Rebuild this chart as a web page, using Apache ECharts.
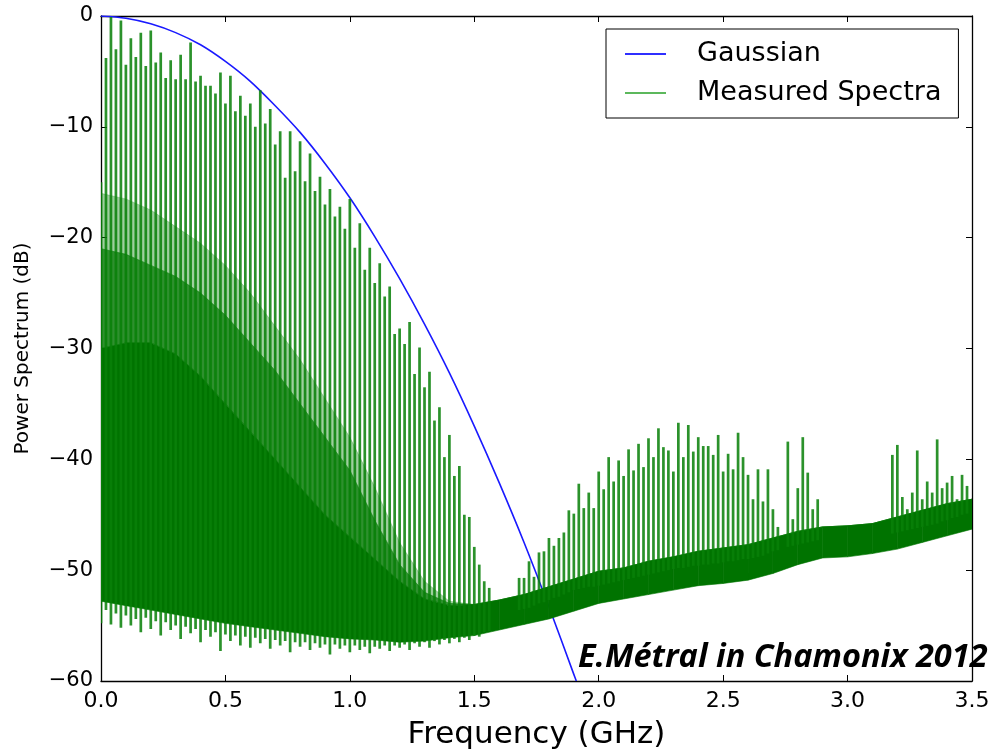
<!DOCTYPE html>
<html><head><meta charset="utf-8">
<script src="https://cdn.jsdelivr.net/npm/echarts@6/dist/echarts.min.js"></script>
<style>html,body{margin:0;padding:0;background:#fff}#c{width:998px;height:755px}</style>
</head><body><div id="c"></div>
<script>
// ---- data ----
const xTickValues = [0, 0.5, 1.0, 1.5, 2.0, 2.5, 3.0, 3.5];
const yTickValues = [0, -10, -20, -30, -40, -50, -60];

// Gaussian model curve (dB)
const gaussFreq = [0, 0.1, 0.2, 0.3, 0.4, 0.5, 0.6, 0.7, 0.8, 0.9, 1.0, 1.1, 1.2, 1.3, 1.4, 1.5, 1.6, 1.7, 1.8, 1.9, 1.91];
const gaussDb   = [0, -0.2, -0.7, -1.5, -2.6, -4.1, -5.9, -8.1, -10.5, -13.3, -16.4, -19.9, -23.7, -27.8, -32.2, -37.0, -42.1, -47.5, -53.3, -59.4, -60.0];

// Measured spectrum: dense noise band envelopes (dB)
const bandFreq    = [0, 0.1, 0.2, 0.3, 0.4, 0.5, 0.6, 0.7, 0.8, 0.9, 1.0, 1.1, 1.2, 1.3, 1.4, 1.5, 1.6, 1.7, 1.8, 1.9, 2.0, 2.1, 2.2, 2.3, 2.4, 2.5, 2.6, 2.7, 2.8, 2.9, 3.0, 3.1, 3.2, 3.3, 3.4, 3.5];
const coreBottom  = [-52.8, -53.2, -53.6, -54.0, -54.4, -54.8, -55.1, -55.4, -55.7, -56.0, -56.2, -56.3, -56.5, -56.4, -56.1, -55.9, -55.4, -54.9, -54.4, -53.7, -53.0, -52.6, -52.2, -51.8, -51.4, -51.2, -50.9, -50.3, -49.5, -48.9, -48.8, -48.5, -48.1, -47.5, -46.9, -46.3];
const coreTop     = [-30.0, -29.5, -29.5, -30.5, -32.5, -35.0, -37.5, -40.0, -42.5, -45.0, -47.0, -49.0, -51.0, -52.6, -53.2, -53.1, -52.7, -52.2, -51.5, -50.8, -50.1, -49.8, -49.2, -48.8, -48.3, -48.0, -47.7, -47.1, -46.5, -46.1, -46.0, -45.8, -45.2, -44.6, -44.0, -43.6];
const haloTop     = [-21.0, -21.5, -22.5, -23.5, -25.0, -27.0, -29.5, -32.0, -35.0, -38.0, -41.0, -45.5, -49.5, -52.0, -53.0, -53.1, -52.7, -52.2, -51.5, -50.8, -50.1, -49.8, -49.2, -48.8, -48.3, -48.0, -47.7, -47.1, -46.5, -46.1, -46.0, -45.8, -45.2, -44.6, -44.0, -43.6];
const haloSoftTop = [-16.0, -16.5, -17.5, -19.0, -20.5, -22.5, -25.0, -28.0, -31.0, -34.5, -38.0, -42.5, -47.5, -51.0, -52.8, -53.1, -52.7, -52.2, -51.5, -50.8, -50.1, -49.8, -49.2, -48.8, -48.3, -48.0, -47.7, -47.1, -46.5, -46.1, -46.0, -45.8, -45.2, -44.6, -44.0, -43.6];

// Measured spectrum: harmonic lines every 0.02 GHz (line n sits at n * spikeStep)
const spikeStep = 0.02;
const spikeTop = [
  -15, -3.8, -0.1, -3.0, -0.4, -4.4, -2.0, -3.7, -1.5, -4.5,
  -1.3, -4.2, -3.3, -5.6, -4.0, -5.7, -3.5, -5.7, -2.4, -5.9,
  -5.4, -6.3, -6.3, -7.0, -5.1, -7.9, -5.4, -8.6, -7.2, -9.0,
  -7.9, -10.0, -6.7, -9.7, -8.4, -11.6, -10.4, -14.6, -10.4, -14.0,
  -11.3, -14.9, -12.4, -15.8, -14.5, -17.0, -15.6, -18.1, -17.2, -19.2,
  -16.5, -20.9, -18.7, -22.9, -20.9, -24.1, -22.3, -25.3, -24.4, -28.7,
  -28.2, -29.6, -27.6, -32.3, -29.9, -33.5, -32.1, -36.5, -35.3, -39.8,
  -37.8, -41.5, -40.6, -45.0, -45.2, -47.9, -49.5, -51.0, -51.6, null,
  null, null, null, null, -50.7, -50.7, -49.2, -50.6, -48.4, -48.3,
  -47.1, -47.8, -47.1, -46.6, -44.6, -44.9, -42.2, -44.4, -43.0, -44.4,
  -41.1, -42.7, -39.8, -42.0, -40.1, -41.5, -39.1, -41.0, -38.6, -40.7,
  -38.1, -39.8, -37.2, -38.9, -39.2, -41.1, -36.7, -39.8, -36.9, -39.3,
  -38.0, -38.8, -38.8, -39.6, -37.8, -41.1, -39.5, -40.9, -37.6, -39.8,
  -41.4, -43.6, -40.9, -43.8, -40.9, -44.5, -46.1, null, -38.4, -45.4,
  -42.6, -38.0, -41.2, -44.5, -43.6, null, null, null, null, null,
  null, null, null, null, null, null, null, null, null, -39.6,
  -38.7, -43.4, -44.5, -43.0, -39.2, -43.6, -42.0, -43.0, -38.2, -42.6,
  -42.1, -41.5, -43.6, -41.4, -42.4
];
const spikeBottom = [
  -54.8, -53.6, -54.9, -53.9, -55.2, -54.1, -55.0, -54.4, -55.6, -54.3,
  -55.3, -54.6, -55.9, -54.7, -55.4, -55.0, -56.2, -55.1, -55.7, -55.3,
  -56.5, -55.4, -56.0, -55.6, -57.3, -55.8, -56.4, -55.9, -56.8, -56.0,
  -57.0, -56.1, -56.6, -56.2, -57.1, -56.3, -56.8, -56.4, -57.4, -56.5,
  -56.9, -56.5, -57.2, -56.6, -57.0, -56.7, -57.6, -56.7, -57.1, -56.8,
  -57.4, -56.8, -57.2, -56.9, -57.5, -56.9, -57.1, -56.8, -57.3, -56.8,
  -57.0, -56.7, -57.2, -56.6, -56.9, -56.5, -57.0, -56.4, -56.7, -56.3,
  -56.6, -56.2, -56.5, -56.1, -56.3, -55.9, -56.0, -55.6, -55.5, null,
  null, null, null, null, -53.6, -53.5, -53.4, -53.2, -53.0, -52.9,
  -52.7, -52.5, -52.4, -52.2, -52.0, -51.8, -51.7, -51.6, -51.5, -51.5,
  -51.4, -51.3, -51.2, -51.1, -51.0, -50.9, -50.8, -50.7, -50.6, -50.5,
  -50.4, -50.3, -50.2, -50.1, -50.0, -49.9, -49.8, -49.8, -49.7, -49.6,
  -49.6, -49.5, -49.5, -49.4, -49.4, -49.3, -49.2, -49.2, -49.1, -49.0,
  -49.0, -48.9, -48.8, -48.7, -48.5, -48.3, -48.2, null, -47.9, -47.8,
  -47.7, -47.6, -47.5, -47.4, -47.3, null, null, null, null, null,
  null, null, null, null, null, null, null, null, null, -46.7,
  -46.6, -46.5, -46.4, -46.3, -46.2, -46.1, -46.0, -45.9, -45.8, -45.6,
  -45.5, -45.3, -45.2, -45.0, -44.9
];

// ---- build chart ----
const fmtMinus = v => String(v).replace('-', '\u2212');
function bandData(lo, hi) {
  const out = [];
  for (let i = 0; i < bandFreq.length - 1; i++) {
    out.push([bandFreq[i], lo[i], hi[i], bandFreq[i + 1], lo[i + 1], hi[i + 1]]);
  }
  return out;
}
function bandRender(fill) {
  return function (params, api) {
    const a = api.coord([api.value(0), api.value(1)]);
    const b = api.coord([api.value(0), api.value(2)]);
    const c = api.coord([api.value(3), api.value(5)]);
    const d = api.coord([api.value(3), api.value(4)]);
    return { type: 'polygon', shape: { points: [a, b, c, d] }, style: { fill: fill, stroke: fill, lineWidth: 0.6 } };
  };
}
const spikeData = [];
for (let n = 0; n < spikeTop.length; n++) {
  if (spikeTop[n] !== null) spikeData.push([n * spikeStep, spikeBottom[n], spikeTop[n]]);
}

const chart = echarts.init(document.getElementById('c'), null, { renderer: 'canvas' });
const axisCommon = {
  type: 'value',
  axisLine: { show: true, onZero: false, lineStyle: { color: '#000', width: 1.3 } },
  axisTick: { show: true, inside: true, length: 6, lineStyle: { color: '#000', width: 1 } },
  splitLine: { show: false }
};
const FONT = 'DejaVu Sans';
chart.setOption({
  animation: false,
  backgroundColor: '#fff',
  grid: { left: 101, right: 26, top: 16, bottom: 64, containLabel: false },
  xAxis: [
    Object.assign({}, axisCommon, {
      min: 0, max: 3.5, interval: 0.5, position: 'bottom',
      axisLabel: { formatter: v => v.toFixed(1), fontSize: 22, color: '#000', margin: 9, fontFamily: FONT },
      name: 'Frequency (GHz)', nameLocation: 'middle', nameGap: 38,
      nameTextStyle: { fontSize: 31, color: '#000', fontFamily: FONT }
    }),
    Object.assign({}, axisCommon, { min: 0, max: 3.5, interval: 0.5, position: 'top', axisLabel: { show: false } })
  ],
  yAxis: [
    Object.assign({}, axisCommon, {
      min: -60, max: 0, interval: 10, position: 'left',
      axisLabel: { formatter: fmtMinus, fontSize: 21, color: '#000', margin: 8, fontFamily: FONT },
      name: 'Power Spectrum (dB)', nameLocation: 'middle', nameGap: 68,
      nameTextStyle: { fontSize: 20, color: '#000', fontFamily: FONT }
    }),
    Object.assign({}, axisCommon, { min: -60, max: 0, interval: 10, position: 'right', axisLabel: { show: false } })
  ],
  legend: {
    left: 606, top: 29, orient: 'vertical',
    padding: [11, 17, 11, 19], itemGap: 11,
    itemWidth: 41, itemHeight: 2,
    borderColor: '#000', borderWidth: 1,
    textStyle: { fontSize: 27, color: '#000', fontFamily: FONT, padding: [0, 0, 0, 26], lineHeight: 28 },
    data: [
      { name: 'Gaussian', icon: 'rect', itemStyle: { color: '#2f2fff' } },
      { name: 'Measured Spectra', icon: 'rect', itemStyle: { color: '#5cb85c' } }
    ]
  },
  graphic: [{
    type: 'text', left: 578, top: 641, z: 100,
    style: { text: 'E.Métral in Chamonix 2012', font: 'italic bold 32.5px "Open Sans"', fill: '#000' }
  }],
  series: [
    {
      name: 'Gaussian', type: 'line', xAxisIndex: 0, yAxisIndex: 0,
      data: gaussFreq.map((f, i) => [f, gaussDb[i]]),
      smooth: 0.3, showSymbol: false, symbol: 'none',
      lineStyle: { color: '#1a1aff', width: 1.6 }, itemStyle: { color: '#2f2fff' }, z: 2
    },
    {
      name: 'Measured Spectra', type: 'custom', xAxisIndex: 0, yAxisIndex: 0,
      data: bandData(haloTop, haloSoftTop), renderItem: bandRender('rgba(0,128,0,0.38)'),
      clip: true, z: 3, silent: true, itemStyle: { color: '#5cb85c' }
    },
    {
      name: 'Measured Spectra', type: 'custom', xAxisIndex: 0, yAxisIndex: 0,
      data: bandData(coreTop, haloTop), renderItem: bandRender('rgba(0,120,0,0.82)'),
      clip: true, z: 3, silent: true, itemStyle: { color: '#5cb85c' }
    },
    {
      name: 'Measured Spectra', type: 'custom', xAxisIndex: 0, yAxisIndex: 0,
      data: bandData(coreBottom, coreTop), renderItem: bandRender('#007300'),
      clip: true, z: 4, silent: true, itemStyle: { color: '#5cb85c' }
    },
    {
      name: 'Measured Spectra', type: 'custom', xAxisIndex: 0, yAxisIndex: 0,
      data: spikeData,
      renderItem: function (params, api) {
        const p1 = api.coord([api.value(0), api.value(1)]);
        const p2 = api.coord([api.value(0), api.value(2)]);
        return { type: 'line', shape: { x1: p1[0], y1: p1[1], x2: p2[0], y2: p2[1] }, style: { stroke: 'rgba(8,128,8,0.86)', lineWidth: 2.7 } };
      },
      clip: true, z: 5, silent: true, itemStyle: { color: '#5cb85c' }
    }
  ]
});
</script></body></html>
